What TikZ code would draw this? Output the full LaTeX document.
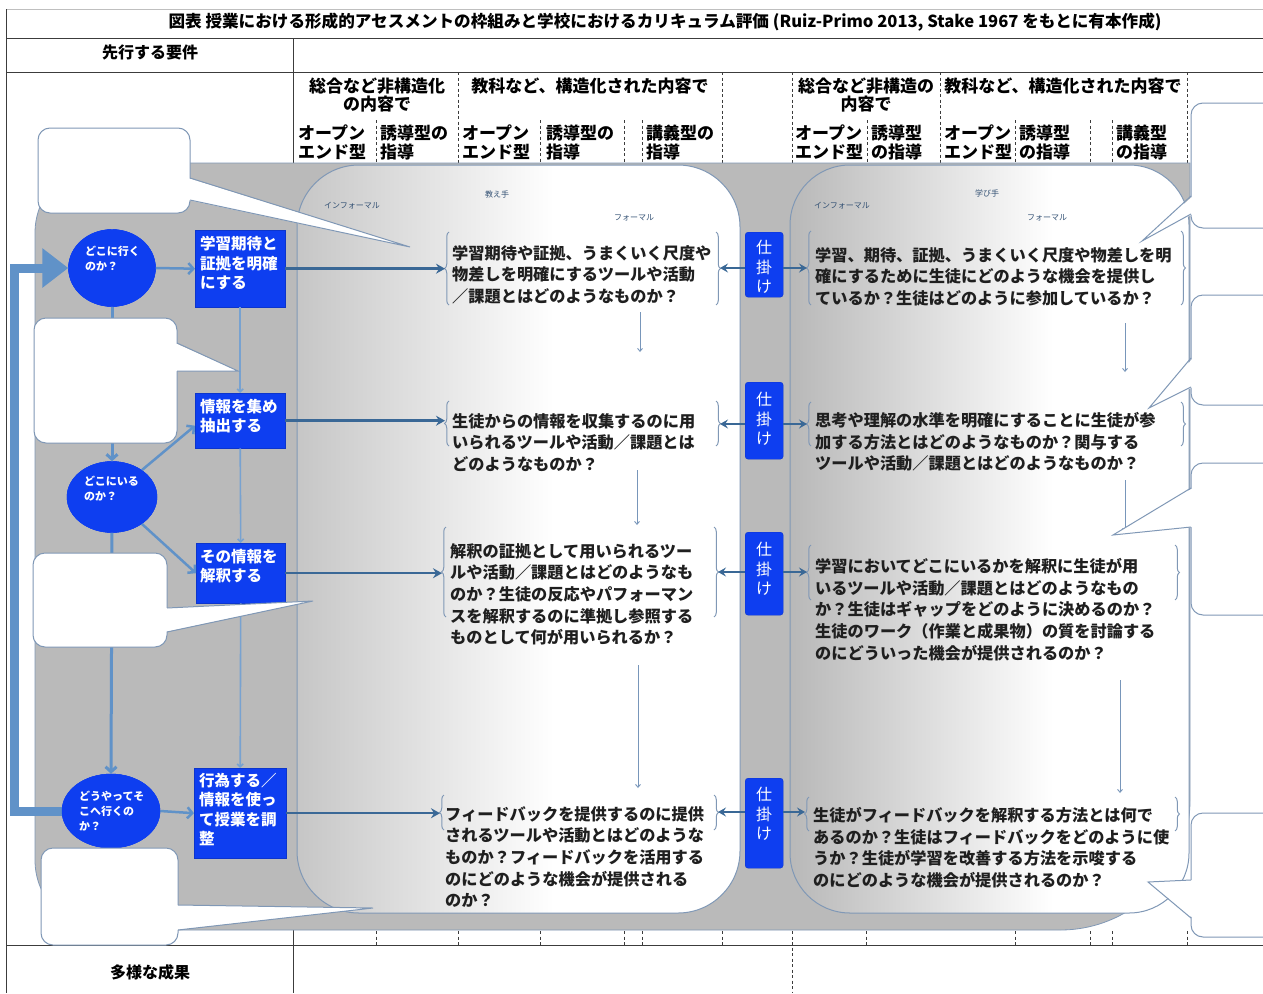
\documentclass[tikz,border=0pt]{standalone}
\usepackage{fontspec}
\setmainfont{Noto Sans CJK JP}
\usetikzlibrary{shapes.geometric,arrows.meta,decorations.pathreplacing}
\definecolor{bluefill}{RGB}{14,62,240}
\definecolor{graybg}{RGB}{186,186,186}
\definecolor{panelgrayL}{RGB}{198,198,198}
\definecolor{panelgrayR}{RGB}{184,184,184}
\definecolor{pborder}{RGB}{128,152,182}
\definecolor{darkconn}{RGB}{58,104,150}
\definecolor{lightconn}{RGB}{96,146,200}
\definecolor{thinconn}{RGB}{120,150,186}
\definecolor{labelc}{RGB}{50,80,115}
\definecolor{tline}{RGB}{60,60,60}
\pgfdeclarehorizontalshading{panelL}{100bp}{color(0bp)=(panelgrayL); color(25bp)=(panelgrayL); color(54bp)=(white); color(100bp)=(white)}
\pgfdeclarehorizontalshading{panelR}{100bp}{color(0bp)=(panelgrayR); color(25bp)=(panelgrayR); color(58bp)=(white); color(100bp)=(white)}
\newcommand\mycallout[5]{%
  \filldraw[cbox] #1;
  \fill[white] ([xshift=#5]#2) -- (#3) -- ([xshift=#5]#4) -- cycle;
  \draw[cedge] (#2) -- (#3) -- (#4);}
\begin{document}
\begin{tikzpicture}[x=1pt,y=-1pt,
  tl/.style={draw=tline, line width=0.9pt},
  hd/.style={draw=tline, line width=0.8pt, dash pattern=on 3pt off 2.5pt},
  hdtext/.style={inner sep=0pt, align=left, anchor=north west, font=\fontsize{17}{19}\selectfont\bfseries},
  hdctext/.style={inner sep=0pt, align=center, anchor=north, font=\fontsize{17}{18}\selectfont\bfseries},
  bluebox/.style={fill=bluefill, draw=bluefill!85!black, line width=0.4pt, anchor=north west, inner sep=0pt},
  boxtext/.style={text=white, inner sep=0pt, align=left, anchor=north west, font=\fontsize{15.5}{19.5}\selectfont\bfseries},
  blueell/.style={ellipse, fill=bluefill, draw=bluefill, inner sep=0pt},
  elltext/.style={text=white, inner sep=0pt, align=left, anchor=north west, font=\fontsize{11}{15}\selectfont\bfseries},
  qtext/.style={inner sep=0pt, align=left, anchor=north west, font=\fontsize{16.2}{21.7}\selectfont\bfseries, text=black!88},
  smalllab/.style={inner sep=0pt, text=labelc, font=\fontsize{8}{9}\selectfont},
  kbox/.style={fill=bluefill, draw=bluefill!85!black, line width=0.4pt, rounded corners=3pt, anchor=north west, inner sep=0pt, minimum width=38pt},
  ktext/.style={text=white, inner sep=0pt, align=center, anchor=north, font=\fontsize{16}{19.5}\selectfont},
  brc/.style={draw=pborder, line width=1pt, decorate, decoration={brace, amplitude=4.5pt}},
  rarrow/.style={draw=darkconn, line width=2.5pt, -{Stealth[length=9pt,width=10pt,inset=3pt]}},
  karrow/.style={draw=darkconn, line width=2.2pt, -{Stealth[length=8pt,width=9pt,inset=3pt]}},
  elink/.style={draw=lightconn, line width=3pt, -{Straight Barb[length=5pt,width=11pt]}},
  vlink/.style={draw=lightconn!85, line width=1.6pt, -{Straight Barb[length=3pt,width=6pt]}},
  dlink/.style={draw=thinconn, line width=0.9pt, -{Straight Barb[length=3pt,width=5pt]}},
  bigarrow/.style={draw=lightconn, line width=9pt, line join=miter, -{Triangle[length=26pt,width=38pt]}},
  cbox/.style={fill=white, draw=pborder, line width=1pt, rounded corners=12pt},
  cedge/.style={draw=pborder, line width=1pt, line join=miter},
]
\useasboundingbox (0,0) rectangle (1263,993);
\fill[white] (0,0) rectangle (1263,993);
% ---------- table ----------
\draw[draw=black!25, line width=0.6pt] (6,9) -- (1263,9);
\draw[tl] (6,9) -- (6,993);
\draw[tl] (6,38) -- (1263,38);
\draw[tl] (6,72) -- (1263,72);
\draw[tl] (6,945) -- (1263,945);
\draw[tl] (293,38) -- (293,163);
\draw[tl] (293,930) -- (293,993);
\foreach \x in {458,722,792,940,1187} \draw[hd] (\x,72) -- (\x,163);
\foreach \x in {376,540,624,642,867,1015,1090,1112} \draw[hd] (\x,120) -- (\x,163);
\foreach \x in {376,458,540,624,642,722,866,1015,1090,1112,1187} \draw[hd] (\x,931) -- (\x,945);
\draw[hd] (792,931) -- (792,993);
\node[font=\fontsize{16.6}{18}\selectfont\bfseries, inner sep=0pt] (title) at (665,22) {図表\ 授業における形成的アセスメントの枠組みと学校におけるカリキュラム評価 (Ruiz-Primo 2013, Stake 1967 をもとに有本作成)};
\node[font=\fontsize{16}{18}\selectfont\bfseries, inner sep=0pt] (pre) at (150,52) {先行する要件};
\node[font=\fontsize{16}{18}\selectfont\bfseries, inner sep=0pt] (out) at (150,972) {多様な成果};
% headers
\node[hdctext] (h1) at (377,78) {総合など非構造化\\の内容で};
\node[hdctext] (h2) at (590,78) {教科など、構造化された内容で};
\node[hdtext] (h3) at (298,125) {オープン\\エンド型};
\node[hdtext] (h4) at (380,125) {誘導型の\\指導};
\node[hdtext] (h5) at (462,125) {オープン\\エンド型};
\node[hdtext] (h6) at (546,125) {誘導型の\\指導};
\node[hdtext] (h7) at (646,125) {講義型の\\指導};
\node[hdctext] (h8) at (866,78) {総合など非構造の\\内容で};
\node[hdctext] (h9) at (1063,78) {教科など、構造化された内容で};
\node[hdtext] (h10) at (795,125) {オープン\\エンド型};
\node[hdtext] (h11) at (871,125) {誘導型\\の指導};
\node[hdtext] (h12) at (944,125) {オープン\\エンド型};
\node[hdtext] (h13) at (1019,125) {誘導型\\の指導};
\node[hdtext] (h14) at (1116,125) {講義型\\の指導};
% ---------- gray background ----------
\path[fill=graybg, draw=pborder, line width=0.8pt] (105,163) -- (1190,163) -- (1190,800) .. controls (1190,872) and (1132,930) .. (1060,930) -- (105,930) .. controls (66,930) and (35,899) .. (35,860) -- (35,233) .. controls (35,194) and (66,163) .. (105,163) -- cycle;
% panels
\shadedraw[shading=panelL, draw=pborder, line width=1pt, rounded corners=62pt] (297,165) rectangle (740,913);
\shadedraw[shading=panelR, draw=pborder, line width=1pt, rounded corners=60pt] (790,165) rectangle (1189,913);
\node[smalllab] (inf1) at (352,206) {インフォーマル};
\node[smalllab] (tea) at (497,194) {教え手};
\node[smalllab] (for1) at (634,218) {フォーマル};
\node[smalllab] (inf2) at (842,206) {インフォーマル};
\node[smalllab] (lea) at (987,193) {学び手};
\node[smalllab] (for2) at (1047,218) {フォーマル};
% ---------- left flow ----------
\node[blueell, minimum width=87pt, minimum height=77pt] (e1) at (112,268) {};
\node[blueell, minimum width=90pt, minimum height=71pt] (e2) at (112,497) {};
\node[blueell, minimum width=98pt, minimum height=74pt] (e3) at (111,811) {};
\node[bluebox, minimum width=90pt, minimum height=77pt] (r1) at (195,230) {};
\node[bluebox, minimum width=90pt, minimum height=55pt] (r2) at (195,393) {};
\node[bluebox, minimum width=89pt, minimum height=60pt] (r3) at (196,543) {};
\node[bluebox, minimum width=92pt, minimum height=90pt] (r4) at (194,768) {};
\draw[bigarrow] (e3.west) -- (14,811) -- (14,268) -- (e1.west);
\draw[elink] (e1.south) -- (e2.north);
\draw[elink] (e2.south) -- (e3.north);
\draw[elink, line width=2.5pt] (e1.east) -- (r1.west);
\draw[elink, line width=2.5pt] (e2.42) -- ([yshift=-5pt]r2.west);
\draw[elink, line width=2.5pt] (e2.-42) -- (r3.west);
\draw[elink, line width=2.5pt] (e3.east) -- (r4.west);
\draw[vlink] (r1.south) -- (r2.north);
\draw[vlink] (r2.south) -- (r3.north);
\draw[vlink] (r3.south) -- (r4.north);
\node[blueell, minimum width=87pt, minimum height=77pt] at (e1) {};
\node[blueell, minimum width=90pt, minimum height=71pt] at (e2) {};
\node[blueell, minimum width=98pt, minimum height=74pt] at (e3) {};
\node[elltext] (e1t) at (85,246) {どこに行く\\のか？};
\node[elltext] (e2t) at (84,476) {どこにいる\\のか？};
\node[elltext] (e3t) at (79,791) {どうやってそ\\こへ行くの\\か？};
\node[boxtext] (r1t) at (200,236) {学習期待と\\証拠を明確\\にする};
\node[boxtext] (r2t) at (200,399) {情報を集め\\抽出する};
\node[boxtext] (r3t) at (200,549) {その情報を\\解釈する};
\node[boxtext] (r4t) at (199,773) {行為する／\\情報を使っ\\て授業を調\\整};
% ---------- question texts ----------
\node[qtext] (t1) at (452,245) {学習期待や証拠、うまくいく尺度や\\物差しを明確にするツールや活動\\／課題とはどのようなものか？};
\node[qtext] (t2) at (452,413) {生徒からの情報を収集するのに用\\いられるツールや活動／課題とは\\どのようなものか？};
\node[qtext] (t3) at (450,543) {解釈の証拠として用いられるツー\\ルや活動／課題とはどのようなも\\のか？生徒の反応やパフォーマン\\スを解釈するのに準拠し参照する\\ものとして何が用いられるか？};
\node[qtext] (t4) at (445,806) {フィードバックを提供するのに提供\\されるツールや活動とはどのような\\ものか？フィードバックを活用する\\のにどのような機会が提供される\\のか？};
\node[qtext] (s1) at (815,247) {学習、期待、証拠、うまくいく尺度や物差しを明\\確にするために生徒にどのような機会を提供し\\ているか？生徒はどのように参加しているか？};
\node[qtext] (s2) at (815,412) {思考や理解の水準を明確にすることに生徒が参\\加する方法とはどのようなものか？関与する\\ツールや活動／課題とはどのようなものか？};
\node[qtext] (s3) at (815,558) {学習においてどこにいるかを解釈に生徒が用\\いるツールや活動／課題とはどのようなもの\\か？生徒はギャップをどのように決めるのか？\\生徒のワーク（作業と成果物）の質を討論する\\のにどういった機会が提供されるのか？};
\node[qtext] (s4) at (813,807) {生徒がフィードバックを解釈する方法とは何で\\あるのか？生徒はフィードバックをどのように使\\うか？生徒が学習を改善する方法を示唆する\\のにどのような機会が提供されるのか？};
% braces
\draw[brc] (449,305) -- (449,232);  \draw[brc] (716,232) -- (716,305);
\draw[brc] (449,446) -- (449,401);  \draw[brc] (716,401) -- (716,446);
\draw[brc] (446,617) -- (446,527);  \draw[brc] (714,527) -- (714,617);
\draw[brc] (444,830) -- (444,795);  \draw[brc] (714,795) -- (714,830);
\draw[brc] (811,305) -- (811,231);  \draw[brc] (1181,231) -- (1181,305);
\draw[brc] (811,446) -- (811,402);  \draw[brc] (1181,402) -- (1181,446);
\draw[brc] (811,600) -- (811,545);  \draw[brc] (1175,545) -- (1175,600);
\draw[brc] (809,831) -- (809,797);  \draw[brc] (1175,797) -- (1175,831);
\coordinate (t1l) at (445,268); \coordinate (t1r) at (720,268); \coordinate (s1l) at (807,268);
\coordinate (t2l) at (445,423); \coordinate (t2r) at (720,424); \coordinate (s2l) at (807,424);
\coordinate (t3l) at (442,572); \coordinate (t3r) at (718,572); \coordinate (s3l) at (807,572);
\coordinate (t4l) at (440,812); \coordinate (t4r) at (718,812); \coordinate (s4l) at (805,812);
\draw[rarrow] (r1.east) -- (r1.east -| t1l);
\draw[rarrow] (r2.east) -- (r2.east -| t2l);
\draw[rarrow] (r3.east) -- (r3.east -| t3l);
\draw[rarrow] (r4.east) -- (r4.east -| t4l);
% 仕掛け boxes
\node[kbox, minimum height=65pt] (k1) at (745,232) {};
\node[kbox, minimum height=77pt] (k2) at (745,382) {};
\node[kbox, minimum height=83pt] (k3) at (745,532) {};
\node[kbox, minimum height=90pt] (k4) at (745,778) {};
\node[ktext] (k1t) at (764,240) {仕\\掛\\け};
\node[ktext] (k2t) at (764,392) {仕\\掛\\け};
\node[ktext] (k3t) at (764,542) {仕\\掛\\け};
\node[ktext] (k4t) at (764,787) {仕\\掛\\け};
\draw[karrow] (k1.west |- t1r) -- (t1r);  \draw[karrow] (k1.east |- s1l) -- (s1l);
\draw[karrow] (k2.west |- t2r) -- (t2r);  \draw[karrow] (k2.east |- s2l) -- (s2l);
\draw[karrow] (k3.west |- t3r) -- (t3r);  \draw[karrow] (k3.east |- s3l) -- (s3l);
\draw[karrow] (k4.west |- t4r) -- (t4r);  \draw[karrow] (k4.east |- s4l) -- (s4l);
% down arrows
\coordinate (d1a) at (640,312); \coordinate (d1b) at (640,352);
\coordinate (d2a) at (637,470); \coordinate (d2b) at (637,525);
\coordinate (d3a) at (638,665); \coordinate (d3b) at (638,788);
\coordinate (d4a) at (1125,323); \coordinate (d4b) at (1125,372);
\coordinate (d5a) at (1125,480); \coordinate (d5b) at (1125,532);
\coordinate (d6a) at (1120,680); \coordinate (d6b) at (1120,793);
\foreach \n in {1,...,6} \draw[dlink] (d\n a) -- (d\n b);
% ---------- callouts ----------
\mycallout{(38,128) rectangle (190,213)}{190,178}{410,247}{190,200}{-2pt}
\mycallout{(34,318) rectangle (177,443)}{177,343}{238,371}{177,371}{-2pt}
\mycallout{(33,553) rectangle (167,647)}{167,608}{313,601}{167,632}{-2pt}
\mycallout{(41,848) rectangle (178,945)}{178,905}{373,908}{178,930}{-2pt}
\mycallout{(1191,103) rectangle (1300,228)}{1191,196}{1142,241}{1191,214}{2pt}
\mycallout{(1191,295) rectangle (1300,405)}{1191,358}{1149,408}{1191,387}{2pt}
\mycallout{(1191,463) rectangle (1300,615)}{1191,488}{1113,535}{1191,527}{2pt}
\mycallout{(1191,813) rectangle (1300,937)}{1191,880}{1148,882}{1191,918}{2pt}
\end{tikzpicture}
\end{document}
